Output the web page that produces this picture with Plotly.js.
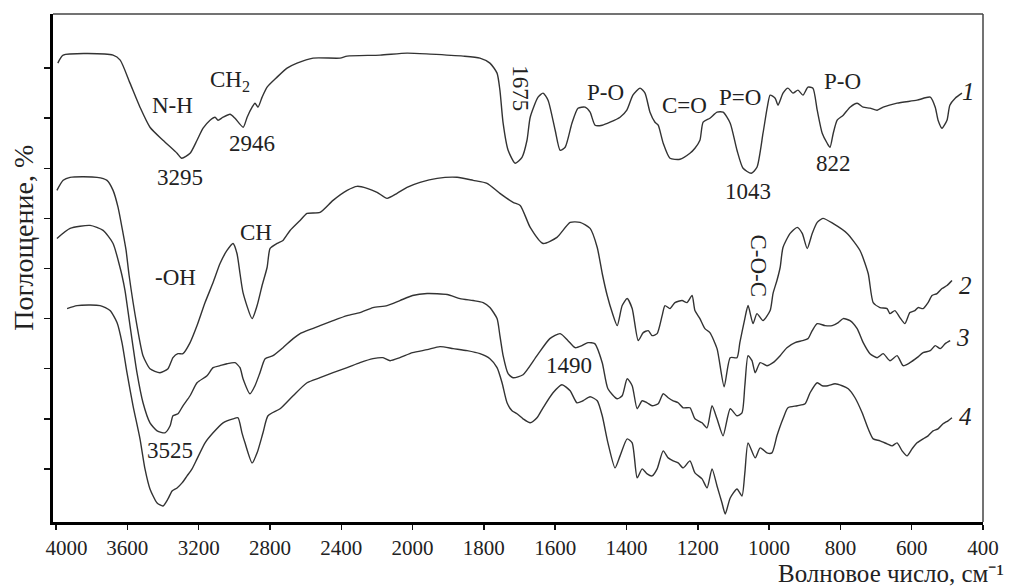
<!DOCTYPE html>
<html>
<head>
<meta charset="utf-8">
<script src="https://cdn.plot.ly/plotly-3.0.1.min.js"></script>
<style>html,body{margin:0;padding:0;background:#fff;}#chart{width:1013px;height:588px;}</style>
</head>
<body>
<div id="chart"></div>
<script>
// Tick labels (wavenumber, cm^-1); scale changes at 2000
const tickWavenumbers = [4000,3600,3200,2800,2400,2000,1800,1600,1400,1200,1000,800,600,400];
const tickLabels = ['\u00a0\u00a0\u00a0\u00a04000','3600','3200','2800','2400','2000','1800','1600','1400','1200','1000','800','600','400'];

// Curve 1
const wn1 = [3990,3960,3680,3640,3585,3529,3473,3400,3321,3295,3248,3209,3175,3136,3108,3091,3063,3024,2996,2950,2928,2900,2884,2867,2844,2816,2760,2704,2648,2558,2407,2367,2182,2031,1951,1858,1811,1783,1763,1755,1746,1732,1712,1693,1679,1670,1648,1634,1620,1600,1586,1572,1553,1536,1516,1502,1488,1468,1446,1418,1399,1382,1362,1348,1334,1320,1311,1297,1278,1250,1222,1208,1194,1185,1166,1146,1129,1109,1090,1073,1050,1034,1017,1005,997,983,975,961,947,933,919,905,891,877,865,851,837,829,820,809,792,773,753,736,717,697,680,641,585,548,534,526,515,501,493,478,459];
const ab1 = [91.0,92.6,92.6,91.6,87.0,82.2,78.2,75.6,73.0,72.0,73.0,75.6,78.0,79.6,80.2,79.6,80.2,80.8,80.0,78.2,80.2,82.2,83.0,82.2,84.2,86.2,88.2,90.0,91.0,92.0,92.0,92.4,92.6,93.0,92.8,92.4,92.0,91.0,89.0,85.6,79.0,73.6,71.0,72.2,75.6,80.2,84.2,85.0,83.6,77.6,73.6,74.2,79.0,82.0,82.2,81.2,78.6,78.6,79.2,80.2,81.6,84.6,86.0,85.0,81.2,79.2,78.6,75.0,72.0,71.8,73.0,74.0,75.6,79.2,80.0,81.2,81.2,79.0,73.6,70.0,69.0,70.2,77.0,82.2,84.6,84.0,82.6,85.0,86.0,85.0,85.6,84.6,86.2,86.0,81.6,77.0,75.0,74.2,77.0,79.6,80.6,82.2,83.0,82.2,82.0,81.6,82.2,83.0,83.6,84.2,82.2,79.6,78.0,79.6,82.6,84.0,85.0];

// Curve 2
const wn2 = [3995,3960,3921,3770,3714,3680,3652,3624,3607,3590,3546,3512,3473,3417,3372,3344,3316,3288,3248,3209,3164,3119,3080,3041,3007,2985,2968,2951,2900,2872,2844,2816,2799,2760,2727,2687,2631,2592,2519,2446,2367,2311,2255,2199,2143,2087,2031,1979,1931,1875,1830,1791,1755,1718,1698,1670,1634,1595,1558,1530,1502,1482,1468,1454,1440,1426,1412,1398,1384,1367,1353,1339,1328,1314,1300,1292,1278,1264,1244,1230,1216,1208,1194,1180,1166,1146,1126,1109,1090,1082,1068,1059,1045,1034,1017,997,989,978,969,961,941,921,907,893,879,865,849,821,781,745,722,708,689,669,661,647,633,619,605,591,582,568,554,543,529,515,501,487];
const ab2 = [65.6,67.6,68.2,68.2,67.6,65.6,62.2,57.0,53.6,48.6,38.6,32.6,30.0,29.2,30.0,32.2,33.0,33.0,35.2,38.6,43.2,47.2,51.0,53.6,55.0,53.0,49.0,45.2,40.0,42.6,46.6,50.2,54.0,55.0,55.6,57.6,59.6,61.0,61.2,63.6,65.6,66.4,66.0,65.2,64.0,65.0,66.2,67.2,68.0,68.2,67.6,67.0,65.0,63.2,62.6,58.2,55.0,56.2,59.2,59.2,58.0,54.2,49.0,44.6,41.2,38.6,42.6,44.0,42.0,35.6,37.2,37.6,36.6,37.0,40.6,42.6,42.0,43.2,43.6,43.2,44.6,41.6,40.0,38.0,37.2,34.0,26.4,32.2,32.2,35.2,40.0,42.6,39.0,41.0,39.6,41.6,45.0,47.6,50.2,54.2,57.0,58.2,57.0,54.0,57.0,59.2,60.0,59.0,57.0,53.6,49.0,43.2,42.2,42.0,41.0,41.6,40.2,39.0,41.2,41.6,42.2,42.0,43.2,44.6,45.0,46.0,46.6,47.6];

// Curve 3
const wn3 = [3995,3921,3809,3736,3680,3641,3630,3613,3585,3546,3512,3473,3433,3389,3360,3344,3316,3288,3248,3209,3153,3119,3080,3041,2996,2968,2951,2912,2884,2856,2827,2783,2727,2670,2631,2592,2519,2446,2367,2295,2222,2143,2071,2000,1959,1903,1867,1830,1802,1783,1763,1755,1746,1732,1718,1690,1651,1615,1586,1564,1544,1525,1508,1489,1468,1452,1426,1412,1398,1384,1370,1356,1342,1328,1311,1297,1283,1269,1255,1241,1222,1208,1188,1174,1160,1146,1129,1109,1090,1076,1068,1059,1048,1039,1025,1006,989,969,950,927,907,891,879,865,843,823,806,792,773,753,736,717,697,680,661,641,624,605,585,568,548,534,520,506,492];
const ab3 = [56.0,58.0,58.6,57.6,55.0,50.2,48.6,45.6,38.6,29.2,23.2,19.2,17.6,17.2,18.6,20.6,21.0,22.6,24.6,27.2,28.6,30.2,30.6,31.0,31.2,30.2,28.0,25.0,26.6,29.2,32.0,32.6,34.2,36.0,37.0,37.6,38.6,39.6,40.6,41.2,42.2,42.6,43.6,44.6,45.0,44.8,44.0,43.6,43.2,42.2,40.0,36.6,32.6,29.0,28.2,28.8,32.6,36.0,37.0,35.6,34.2,34.6,35.2,35.0,31.2,26.0,24.0,24.6,28.0,26.6,22.0,23.6,23.2,22.6,23.0,25.0,24.2,23.6,23.2,22.2,22.2,20.0,19.2,18.2,22.6,20.0,16.6,22.0,20.6,21.2,26.6,32.6,31.6,29.2,31.2,30.6,31.2,32.6,34.2,35.2,35.6,36.0,37.6,39.0,38.6,38.6,39.2,40.0,39.6,38.0,35.2,33.0,32.2,33.0,31.6,32.6,30.6,31.2,32.2,33.2,33.6,34.6,34.0,35.0,35.6];

// Curve 4
const wn4 = [3938,3882,3753,3697,3658,3630,3602,3568,3529,3501,3473,3433,3400,3372,3349,3321,3293,3265,3237,3209,3164,3119,3063,3007,2979,2957,2940,2900,2872,2839,2811,2743,2670,2592,2519,2446,2367,2295,2222,2166,2126,2071,2000,1959,1923,1886,1847,1811,1783,1763,1749,1735,1721,1707,1690,1670,1651,1634,1606,1581,1558,1539,1522,1502,1482,1468,1452,1432,1418,1398,1384,1370,1356,1342,1328,1314,1297,1283,1269,1255,1241,1222,1208,1188,1174,1160,1146,1132,1123,1109,1090,1076,1068,1059,1039,1025,1006,992,978,961,947,921,899,885,865,851,835,815,795,778,759,739,722,708,689,669,655,641,627,613,599,585,568,554,540,526,512,498,487];
const ab4 = [42.0,42.6,42.6,41.6,39.2,35.2,29.2,22.6,16.0,10.0,6.0,3.2,2.6,4.0,5.6,6.2,7.2,8.6,10.0,12.0,15.2,17.2,19.2,20.0,20.2,17.2,15.2,11.2,13.2,17.2,20.6,22.0,24.6,27.2,28.2,29.2,30.2,31.2,32.0,32.2,31.6,32.2,33.2,33.8,34.4,34.0,33.6,33.0,32.0,30.2,27.2,23.2,21.6,21.0,20.0,19.2,20.2,22.2,25.2,26.8,25.6,23.2,23.6,24.4,23.6,20.6,15.2,10.2,12.6,16.0,15.2,8.2,10.0,9.0,8.6,10.0,13.6,12.2,11.6,11.2,10.2,11.6,9.2,8.0,6.2,10.0,6.6,3.2,1.0,4.2,6.0,4.6,9.2,15.2,12.2,14.2,13.2,13.2,16.6,20.0,22.2,22.6,23.0,25.2,27.2,26.6,26.6,27.0,26.6,26.0,24.2,21.2,18.0,16.0,15.6,15.0,14.6,15.2,13.6,12.6,14.0,15.2,16.0,16.6,17.6,18.0,19.0,19.6,20.2];

// Peak labels: text, wavenumber, absorbance position
const peakTexts = ['N-H','CH<sub>2</sub>','2946','3295','-OH','CH','3525','1675','P-O','C=O','P=O','1043','P-O','822','C-O-C','1490'];
const peakWn    = [3344,3024,2900,3304,3332,2878,3360,1696,1460,1236,1081,1059,795,818,1031,1561];
const peakAb    = [82.6,87.4,75.0,68.2,48.2,57.2,13.6,86.0,85.2,82.6,84.2,65.4,87.4,71.0,50.6,30.6];
const peakAngle = [0,0,0,0,0,0,0,90,0,0,0,0,0,0,90,0];

const curveNames = ['1','2','3','4'];
const curveLabelWn = [442,450,456,450];
const curveLabelAb = [85.4,46.6,36.2,20.4];

// piecewise wavenumber scale (x2 compression above 2000 cm^-1)
function scaleX(w){ return w <= 2000 ? w : 2000 + (w - 2000) / 2; }

const serif = 'Liberation Serif, Times New Roman, serif';
const lineColor = '#333333';
const series = [[wn1,ab1],[wn2,ab2],[wn3,ab3],[wn4,ab4]];
const traces = series.map((s, i) => ({
  x: s[0].map(scaleX), y: s[1], type: 'scatter', mode: 'lines', name: curveNames[i],
  line: {color: lineColor, width: 1.4, shape: 'spline', smoothing: 0.6},
  hoverinfo: 'skip'
}));

const annotations = [];
peakTexts.forEach((t, i) => {
  annotations.push({
    x: scaleX(peakWn[i]), y: peakAb[i], xref: 'x', yref: 'y', text: t, showarrow: false,
    textangle: peakAngle[i], font: {family: serif, size: 23, color: '#222'},
    xanchor: 'center', yanchor: 'middle',
    bgcolor: t === '3525' ? '#ffffff' : 'rgba(0,0,0,0)', borderpad: 0
  });
});
curveNames.forEach((t, i) => {
  annotations.push({
    x: scaleX(curveLabelWn[i]), y: curveLabelAb[i], xref: 'x', yref: 'y',
    text: '<i>' + t + '</i>', showarrow: false,
    font: {family: serif, size: 25, color: '#222'}, xanchor: 'center', yanchor: 'middle'
  });
});
annotations.push({
  x: -0.032, y: 0.56, xref: 'paper', yref: 'paper', text: 'Поглощение, %',
  textangle: -90, showarrow: false, font: {family: serif, size: 28, color: '#222'},
  xanchor: 'center', yanchor: 'middle'
});
annotations.push({
  x: 1.024, y: -0.1299, xref: 'paper', yref: 'paper', text: 'Волновое число, см\u207B\u00B9',
  showarrow: false, font: {family: serif, size: 25, color: '#222'},
  xanchor: 'right', yanchor: 'bottom', borderpad: 0
});

const layout = {
  width: 1013, height: 588,
  margin: {l: 53, r: 30, t: 14, b: 66},
  paper_bgcolor: '#ffffff', plot_bgcolor: '#ffffff',
  showlegend: false,
  xaxis: {
    range: [scaleX(4017), 400],
    tickmode: 'array', tickvals: tickWavenumbers.map(scaleX), ticktext: tickLabels,
    ticks: 'outside', ticklen: 5, tickwidth: 1.5, tickcolor: '#111',
    showline: true, linecolor: '#000', linewidth: 3,
    showgrid: false, zeroline: false,
    tickfont: {family: serif, size: 21, color: '#222'}
  },
  yaxis: {
    range: [-0.6, 100.8],
    tickmode: 'array', tickvals: [10,20,30,40,50,60,70,80,90],
    showticklabels: false,
    ticks: 'outside', ticklen: 6, tickwidth: 1.5, tickcolor: '#111',
    showline: true, linecolor: '#000', linewidth: 3,
    showgrid: false, zeroline: false
  },
  shapes: [
    {type: 'line', xref: 'paper', yref: 'paper', x0: 0, x1: 1, y0: 1, y1: 1, line: {color: '#444', width: 1.5}},
    {type: 'line', xref: 'paper', yref: 'paper', x0: 1, x1: 1, y0: 0, y1: 1, line: {color: '#444', width: 1.5}}
  ],
  annotations: annotations
};

Plotly.newPlot('chart', traces, layout, {staticPlot: true, displayModeBar: false});
</script>
</body>
</html>
